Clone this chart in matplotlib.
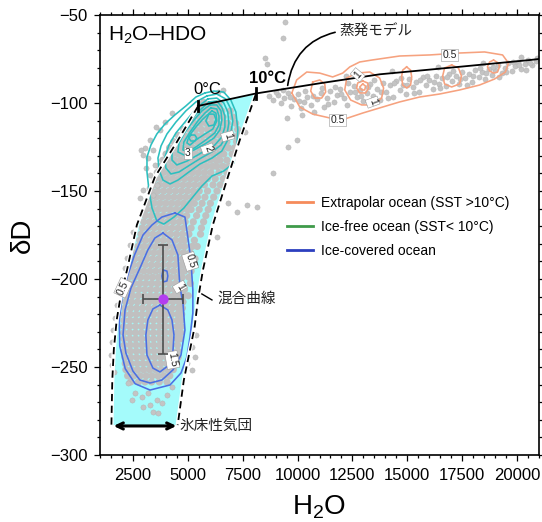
import matplotlib
matplotlib.use('Agg')
import matplotlib.pyplot as plt
from matplotlib.lines import Line2D
from matplotlib.ticker import MultipleLocator

plt.rcParams['font.family'] = ['Liberation Sans', 'Noto Sans CJK JP', 'DejaVu Sans']
plt.rcParams['mathtext.fontset'] = 'custom'
plt.rcParams['mathtext.rm'] = 'Liberation Sans'
plt.rcParams['mathtext.it'] = 'Liberation Sans:italic'
plt.rcParams['mathtext.bf'] = 'Liberation Sans:bold'

# ---------------- data ----------------
# evaporation model line (H2O, dD)
EVAP_H2O = [5460, 8100, 11010, 13740, 17150, 20570, 21000]
EVAP_DD = [-101.7, -94.6, -88.8, -83.7, -79.7, -75.6, -75.0]
TEMP_MARKS = [(5460, -101.7), (8100, -94.6)]

# mixing curves (band boundaries)
MIX_LEFT_H2O = [5460, 4500, 3500, 2680, 2230, 1950, 1760, 1630, 1560, 1520]
MIX_LEFT_DD = [-102.0, -122.2, -142.0, -169.3, -194.9, -209.0, -223.3, -240.0, -257.4, -283.0]
MIX_RIGHT_H2O = [8100, 7370, 6780, 6140, 5690, 5460, 5310, 5190, 4820, 4540]
MIX_RIGHT_DD = [-95.0, -121.0, -143.8, -169.3, -194.9, -211.9, -227.3, -234.7, -257.4, -283.0]

# ice-sheet air mass arrow
ICE_ARROW_H2O = [1620, 4480]
ICE_ARROW_DD = -283.5

# mean point with error bars
MEAN_H2O, MEAN_DD = 3870, -211.5
ERR_H2O, ERR_DD = 890, 31

# dense gray observations (rows of dD, list of H2O)
DENSE_DD = [-101, -104.5, -108, -111.5, -115, -118.5, -122, -125.5, -129, -132.5,
            -136, -139.5, -143, -146.5, -150, -153.5, -157, -160.5, -164, -167.5,
            -171, -174.5, -178, -181.5, -185, -188.5, -192, -195.5, -199, -202.5,
            -206, -209.5, -213, -216.5, -220, -223.5, -227, -230.5, -234, -237.5,
            -241, -244.5, -248, -251.5, -255, -258.5]
DENSE_H2O = [
    [5620, 5890, 6150, 6420],
    [5470, 5730, 6010, 6280, 6540, 6930],
    [5260, 5540, 5800, 6060, 6340, 6610, 7050],
    [5020, 5290, 5560, 5830, 6090, 6360, 6640, 6820, 7180],
    [4810, 5080, 5350, 5620, 5900, 6160, 6430, 6700, 6900, 7270],
    [4570, 4840, 5110, 5380, 5650, 5920, 6190, 6460, 6730, 7010, 7300],
    [4360, 4630, 4890, 5160, 5430, 5700, 5970, 6240, 6510, 6780, 7220],
    [4170, 4430, 4700, 4970, 5240, 5510, 5780, 6050, 6320, 6600, 6850, 7130],
    [4010, 4280, 4550, 4820, 5090, 5360, 5630, 5900, 6170, 6440, 6640, 7020],
    [3860, 4130, 4400, 4670, 4940, 5210, 5480, 5750, 6020, 6290, 6470, 6780],
    [3710, 3980, 4250, 4520, 4790, 5060, 5330, 5600, 5870, 6140, 6320, 6600, 6880],
    [3610, 3880, 4150, 4420, 4690, 4960, 5230, 5500, 5770, 6050, 6420, 6780],
    [3510, 3780, 4050, 4320, 4590, 4860, 5130, 5400, 5670, 5900, 6250, 6620],
    [3430, 3700, 3970, 4240, 4510, 4780, 5050, 5320, 5590, 5760, 6150, 6480],
    [3360, 3630, 3900, 4170, 4440, 4710, 4980, 5250, 5520, 5900, 6330],
    [3290, 3560, 3830, 4100, 4370, 4640, 4910, 5180, 5440, 5780, 6180],
    [3190, 3460, 3730, 4000, 4270, 4540, 4810, 5080, 5300, 5650, 6030],
    [3110, 3380, 3650, 3920, 4190, 4460, 4730, 5000, 5150, 5520, 5930],
    [3060, 3330, 3600, 3870, 4140, 4410, 4680, 4950, 5400, 5820],
    [2990, 3260, 3530, 3800, 4070, 4340, 4610, 4880, 5250, 5720],
    [2930, 3200, 3470, 3740, 4010, 4280, 4550, 4820, 5150, 5620],
    [2870, 3140, 3410, 3680, 3950, 4220, 4490, 4760, 5050, 5580],
    [2810, 3080, 3350, 3620, 3890, 4160, 4430, 4700, 4850, 5300],
    [2730, 3000, 3270, 3540, 3810, 4080, 4350, 4620, 4860, 5200, 5430],
    [2650, 2920, 3190, 3460, 3730, 4000, 4270, 4540, 4810, 5100],
    [2590, 2860, 3130, 3400, 3670, 3940, 4210, 4480, 4750, 5000, 5330],
    [2530, 2800, 3070, 3340, 3610, 3880, 4150, 4420, 4690, 4860, 5250],
    [2460, 2730, 3000, 3270, 3540, 3810, 4080, 4350, 4620, 4850, 5150],
    [2320, 2590, 2860, 3130, 3400, 3670, 3940, 4210, 4480, 4750, 5050],
    [2280, 2550, 2820, 3090, 3360, 3630, 3900, 4170, 4440, 4710, 5120],
    [2230, 2500, 2770, 3040, 3310, 3580, 3850, 4120, 4390, 4660, 4850],
    [2200, 2470, 2740, 3010, 3280, 3550, 3820, 4090, 4360, 4630, 4800, 5020],
    [2160, 2430, 2700, 2970, 3240, 3510, 3780, 4050, 4320, 4590, 4780],
    [2130, 2400, 2670, 2940, 3210, 3480, 3750, 4020, 4290, 4560, 4750],
    [2110, 2380, 2650, 2920, 3190, 3460, 3730, 4000, 4270, 4540, 4720],
    [2090, 2360, 2630, 2900, 3170, 3440, 3710, 3980, 4250, 4520, 4700],
    [2080, 2350, 2620, 2890, 3160, 3430, 3700, 3970, 4240, 4510, 4700],
    [2080, 2350, 2620, 2890, 3160, 3430, 3700, 3970, 4240, 4510, 4680],
    [2090, 2360, 2630, 2900, 3170, 3440, 3710, 3980, 4250, 4520, 4660],
    [2100, 2370, 2640, 2910, 3180, 3450, 3720, 3990, 4260, 4530],
    [2110, 2380, 2650, 2920, 3190, 3460, 3730, 4000, 4270, 4540],
    [2130, 2400, 2670, 2940, 3210, 3480, 3750, 4020, 4290, 4560],
    [2150, 2420, 2690, 2960, 3230, 3500, 3770, 4040, 4310, 4480],
    [2180, 2450, 2720, 2990, 3260, 3530, 3800, 4070, 4340],
    [2260, 2550, 2830, 3100, 3370, 3640, 3910, 4180],
    [2400, 2750, 3050, 3350, 3700, 4050],
]

# sparse observations: lower tail, band edges, outliers
TAIL_POINTS = [(2270, -259.1), (2590, -264.8), (2910, -267.0), (3180, -264.8), (3590, -268.8),
               (3820, -270.5), (3410, -275.6), (3640, -276.2), (3280, -271.6), (4050, -265.9),
               (4280, -261.4), (2460, -268.8), (2960, -272.7)]
EDGE_POINTS = [(3275, -121.0), (3050, -125.6), (3410, -126.7), (3180, -131.3), (2960, -129.5),
               (3500, -135.2), (3280, -140.9), (3090, -136.9), (3590, -146.6), (3410, -152.3),
               (3230, -148.3), (3730, -115.3), (3960, -110.8), (4280, -105.7), (3550, -113.6),
               (2870, -126.7), (2960, -149.4), (2820, -154.0),
               (2500, -173.3), (2370, -180.7), (2230, -188.1), (2140, -193.8), (2000, -200.6),
               (1910, -207.4), (1770, -214.8), (1680, -222.2), (1590, -229.0), (1550, -235.8),
               (1500, -243.2), (1550, -248.9), (1640, -252.8),
               (5190, -238.6), (5320, -244.3), (4960, -247.7), (5190, -251.7), (5370, -231.8),
               (6600, -92.6), (6370, -93.8), (5700, -99.0)]
OUTLIER_POINTS = [(9420, -54.0), (9330, -63.1), (8510, -74.4), (8600, -77.8), (9510, -108.5),
                  (10190, -106.8), (9960, -121.0), (9550, -125.0), (8870, -139.8), (7600, -116.5),
                  (6820, -156.8), (7230, -161.9), (7690, -158.0), (8140, -159.1), (6320, -176.1)]
EVAP_POINTS = [(8700, -96.0), (8900, -98.5), (9100, -95.5), (9250, -100.0), (9400, -97.0),
               (9550, -94.5), (9700, -101.5), (9850, -98.0), (10000, -95.0), (10150, -103.0),
               (10300, -99.5), (10450, -96.5), (10600, -101.0), (10750, -105.0), (10900, -98.0),
               (11050, -94.5), (11200, -102.0), (11350, -97.0), (11500, -93.0), (11650, -99.5),
               (11800, -95.5), (11950, -92.0), (12100, -97.0), (12250, -101.0), (12400, -94.0),
               (12550, -90.5), (12700, -96.5), (12850, -92.5), (13000, -99.0), (13150, -94.5),
               (13300, -89.0), (13450, -96.0), (13600, -92.0), (13750, -98.5), (13900, -88.5),
               (14050, -94.0), (14200, -90.0), (14350, -96.5), (14500, -87.5), (14650, -92.5),
               (14800, -89.5), (14950, -95.0), (15100, -86.5), (15250, -91.0), (15400, -88.0),
               (15550, -93.5), (15700, -85.5), (15850, -90.0), (16000, -87.0), (16150, -92.0),
               (16300, -84.5), (16450, -89.0), (16600, -86.0), (16750, -90.5), (16900, -83.5),
               (17050, -87.5), (17200, -84.5), (17350, -89.0), (17500, -82.5), (17650, -86.0),
               (17800, -83.5), (17950, -88.0), (18100, -81.5), (18250, -85.0), (18400, -82.5),
               (18550, -86.5), (18700, -80.5), (18850, -84.0), (19000, -81.5), (19150, -78.5),
               (19300, -83.0), (19450, -80.0), (19600, -77.5), (19750, -82.0), (19900, -79.0),
               (20050, -76.5), (20200, -80.5), (20350, -78.0), (20500, -75.5), (20700, -78.5),
               (20850, -76.0),
               (9000, -93.5), (9350, -92.5), (9650, -96.5), (10050, -99.0), (10350, -93.0),
               (10700, -96.0), (11100, -91.5), (11400, -100.5), (11700, -91.0), (12000, -95.0),
               (12300, -88.5), (12600, -93.5), (12900, -96.0), (13200, -91.0), (13500, -87.0),
               (13800, -94.0), (14100, -97.0), (14400, -88.5), (14700, -86.0), (15000, -90.0),
               (15300, -94.5), (15600, -87.0), (15900, -84.5), (16200, -88.0), (16500, -91.5),
               (16800, -85.0), (17100, -82.0), (17400, -86.5), (17700, -89.5), (18000, -84.5),
               (18300, -80.0), (18600, -83.0), (18900, -79.5), (19200, -85.5), (19500, -82.5),
               (19800, -76.5), (20100, -78.5), (20400, -81.5), (20600, -77.0), (20900, -74.5),
               (12200, -84.5), (14300, -82.0), (16400, -79.5), (18450, -77.0), (20200, -74.0)]

# density contours: ice-free ocean (teal)
TEAL_C05 = [(5780, -94.3), (6190, -93.2), (6640, -93.8), (6960, -98.3), (7190, -105.1), (7280, -115.3),
            (7230, -125.6), (7100, -134.1), (6640, -138.6), (6100, -141.5), (5640, -147.2), (5230, -153.4),
            (4820, -159.7), (4370, -164.8), (3910, -168.8), (3590, -167.0), (3370, -159.7), (3230, -149.4),
            (3140, -139.2), (3140, -130.7), (3320, -123.9), (3590, -117.6), (3960, -111.9), (4410, -106.8),
            (4910, -101.7), (5370, -96.6)]
TEAL_C10 = [(5870, -96.0), (6320, -94.9), (6730, -97.7), (6960, -103.4), (7050, -110.2), (6960, -117.0),
            (6820, -121.0), (6550, -127.3), (6100, -131.3), (5550, -134.7), (5050, -139.2), (4550, -143.8),
            (4190, -146.0), (3870, -143.8), (3690, -138.1), (3640, -131.3), (3780, -124.4), (4050, -117.6),
            (4460, -110.8), (4910, -104.5), (5370, -99.4)]
TEAL_C15 = [(5910, -97.7), (6320, -97.2), (6640, -100.0), (6820, -105.1), (6870, -111.4), (6780, -118.2),
            (6510, -123.9), (6100, -127.8), (5600, -131.3), (5100, -135.2), (4600, -139.2), (4230, -140.3),
            (4000, -136.9), (3960, -130.7), (4140, -123.9), (4460, -117.0), (4910, -110.2), (5410, -102.8)]
TEAL_C20 = [(5960, -99.4), (6320, -98.9), (6550, -102.3), (6690, -107.4), (6690, -113.6), (6550, -119.3),
            (6230, -123.9), (5910, -126.1), (5460, -129.5), (4960, -133.0), (4500, -135.2), (4280, -132.4),
            (4280, -126.7), (4500, -120.5), (4910, -113.6), (5410, -105.7)]
TEAL_C25 = [(6010, -101.1), (6320, -101.1), (6510, -104.5), (6550, -109.7), (6460, -115.3), (6190, -119.9),
            (5780, -123.3), (5280, -126.7), (4820, -129.5), (4550, -127.8), (4600, -122.7), (4870, -116.5),
            (5280, -109.7), (5640, -104.5)]
TEAL_C30 = [(6050, -102.8), (6320, -103.4), (6420, -107.4), (6420, -112.5), (6230, -117.0), (5820, -121.0),
            (5370, -125.0), (5000, -127.8), (4780, -126.7), (4820, -122.2), (5100, -116.5), (5460, -110.2),
            (5780, -105.7)]
TEAL_C35 = [(6100, -104.5), (6280, -105.7), (6320, -110.2), (6140, -114.8), (5780, -117.6), (5370, -121.0),
            (5100, -123.9), (4960, -122.7), (5050, -118.8), (5370, -113.6), (5690, -109.1)]
TEAL_C40A = [(5960, -106.3), (6190, -106.3), (6280, -109.1), (6190, -112.5), (5960, -113.1), (5820, -110.2)]
TEAL_C40B = [(5140, -118.2), (5320, -118.2), (5410, -119.9), (5320, -121.6), (5140, -121.6), (5050, -119.9)]
TEAL_LABELS = [('1', 6820, -118.8, -75), ('2', 5910, -126.1, -70), ('3', 5000, -128.4, 0)]

# density contours: ice-covered ocean (blue)
BLUE_C05 = [(4410, -162.5), (4870, -164.8), (5000, -176.1), (5140, -189.2), (5230, -206.3), (5230, -219.3),
            (5100, -233.0), (4960, -244.3), (4690, -253.4), (4190, -260.2), (3280, -263.1), (2600, -259.5),
            (2150, -251.0), (1900, -238.0), (1880, -223.3), (2020, -209.0), (2270, -197.7), (2570, -186.4),
            (2960, -175.0), (3370, -169.3), (3820, -164.8)]
BLUE_C10 = [(3870, -173.9), (4280, -177.8), (4550, -186.4), (4640, -204.5), (4780, -213.6), (4870, -229.0),
            (4690, -243.2), (4320, -251.7), (3820, -257.4), (3280, -259.1), (2820, -257.4), (2500, -252.3),
            (2180, -242.1), (2050, -231.8), (2140, -217.6), (2410, -205.1), (2820, -193.8), (3180, -183.5),
            (3500, -176.7)]
BLUE_C15 = [(3730, -214.8), (4090, -217.6), (4280, -223.3), (4370, -231.8), (4320, -241.5), (4090, -249.4),
            (3730, -252.8), (3410, -250.6), (3140, -243.2), (3090, -231.8), (3180, -223.3), (3410, -217.0)]
BLUE_C20 = [(3870, -194.9), (4050, -195.5), (4090, -198.3), (4050, -201.1), (3870, -201.7), (3820, -198.3)]
BLUE_LABELS = [('0.5', 5110, -190.0, -72), ('0.5', 2050, -205.0, 65), ('1', 4640, -204.5, -60),
               ('1.5', 4290, -246.0, -80)]

# density contours: extrapolar ocean (orange)
ORANGE_C05 = [(9740, -94.3), (9960, -86.9), (10420, -82.4), (11010, -83.0), (11600, -85.2), (12060, -83.0),
              (12380, -79.5), (12830, -76.7), (13380, -75.6), (14650, -73.3), (16020, -72.7), (17380, -71.6),
              (18520, -71.0), (19340, -72.7), (19610, -77.3), (19470, -82.4), (18970, -86.4), (18290, -89.8),
              (17380, -92.6), (16470, -94.9), (15560, -96.6), (14650, -99.4), (13740, -102.8), (12970, -105.7),
              (12150, -109.1), (11470, -108.5), (10690, -106.3), (10100, -102.3)]
ORANGE_C10A = [(10690, -88.1), (11010, -86.9), (11240, -89.2), (11280, -93.8), (11100, -97.2), (10780, -97.2),
               (10600, -93.2)]
ORANGE_C10B = [(12240, -85.8), (12690, -83.0), (13290, -82.4), (13740, -85.8), (13920, -91.5), (13830, -97.2),
               (13470, -101.1), (12920, -101.1), (12420, -98.3), (12150, -92.6)]
ORANGE_C15 = [(12970, -87.5), (13190, -88.6), (13240, -91.5), (13100, -94.3), (12830, -94.3), (12690, -91.5),
              (12740, -88.6)]
ORANGE_C20 = [(12970, -89.2), (13100, -90.4), (13060, -92.6), (12920, -92.6), (12830, -90.9)]
ORANGE_C10C = [(14970, -79.5), (15150, -81.3), (15200, -85.2), (15150, -89.8), (14970, -91.5), (14790, -89.8),
               (14740, -85.2), (14790, -81.3)]
ORANGE_C10D = [(17020, -78.4), (17330, -80.1), (17470, -84.7), (17380, -89.2), (17020, -90.9), (16700, -89.2),
               (16610, -84.7), (16700, -80.1)]
ORANGE_C10E = [(18930, -75.6), (19150, -77.3), (19200, -79.5), (19110, -82.4), (18930, -83.0), (18750, -81.8),
               (18650, -79.5), (18750, -76.7)]
ORANGE_LABELS = [('0.5', 11830, -109.7, 0), ('0.5', 16930, -72.7, 0), ('1', 13420, -99.5, -70),
                 ('1', 12740, -84.0, 50)]

LEGEND_LABELS = ['Extrapolar ocean (SST >10°C)', 'Ice-free ocean (SST< 10°C)', 'Ice-covered ocean']
LEGEND_COLORS = ['#f58b5b', '#3f9a4a', '#2c3fbf']

X_LABEL = 'H$_2$O'
Y_LABEL = 'δD'
TITLE = 'H$_2$O–HDO'

# ---------------- figure ----------------
fig = plt.figure(figsize=(5.42, 5.22), dpi=100)
ax = fig.add_axes([100 / 542, 67 / 522, 439 / 542, 440 / 522])
ax.set_xlim(1000, 21000)
ax.set_ylim(-300, -50)

# cyan mixing band
ax.fill(MIX_LEFT_H2O + MIX_RIGHT_H2O[::-1], MIX_LEFT_DD + MIX_RIGHT_DD[::-1],
        color='#a4fbfb', lw=0, zorder=1)

# gray observations
dx, dy = [], []
for yv, xs in zip(DENSE_DD, DENSE_H2O):
    dx += xs
    dy += [yv] * len(xs)
ax.scatter(dx, dy, s=27, c='#c0c0c0', edgecolors='none', zorder=2)
for pts in (TAIL_POINTS, EDGE_POINTS, OUTLIER_POINTS, EVAP_POINTS):
    ax.scatter([p[0] for p in pts], [p[1] for p in pts], s=14, c='#c4c4c4',
               edgecolors='#b0b0b0', linewidths=0.3, zorder=2)


def draw_contour(pts, color, lw=1.1):
    xs = [p[0] for p in pts] + [pts[0][0]]
    ys = [p[1] for p in pts] + [pts[0][1]]
    ax.plot(xs, ys, color=color, lw=lw, zorder=3, solid_joinstyle='round')


def draw_label(lbl):
    t, x, y, rot = lbl
    ax.text(x, y, t, fontsize=7.5, ha='center', va='center', rotation=rot, color='#222222', zorder=6,
            bbox=dict(boxstyle='square,pad=0.12', fc='white', ec='#999999', lw=0.4))


TEAL = '#2cbfbf'
BLUE = '#4a6fe3'
ORANGE = '#f6a27f'
for c in (TEAL_C05, TEAL_C10, TEAL_C15, TEAL_C20, TEAL_C25, TEAL_C30, TEAL_C35, TEAL_C40A, TEAL_C40B):
    draw_contour(c, TEAL, 1.15)
for c in (BLUE_C05, BLUE_C10, BLUE_C15, BLUE_C20):
    draw_contour(c, BLUE, 1.15)
for c in (ORANGE_C05, ORANGE_C10A, ORANGE_C10B, ORANGE_C15, ORANGE_C20, ORANGE_C10C, ORANGE_C10D, ORANGE_C10E):
    draw_contour(c, ORANGE, 1.15)

# dashed mixing curves
for xs, ys in ((MIX_LEFT_H2O, MIX_LEFT_DD), (MIX_RIGHT_H2O, MIX_RIGHT_DD)):
    ax.plot(xs, ys, color='white', lw=3.0, zorder=4, solid_capstyle='butt')
    ax.plot(xs, ys, color='black', lw=1.3, dashes=(4, 2.5), zorder=4.1)

# evaporation model
ax.plot(EVAP_H2O, EVAP_DD, color='black', lw=1.3, zorder=5)
for tx, ty in TEMP_MARKS:
    ax.plot([tx, tx], [ty - 3.0, ty + 3.0], color='black', lw=2.0, zorder=5)
ax.text(5890, -92.4, '0°C', fontsize=12, ha='center', va='center', zorder=6)
ax.text(8640, -86.0, '10°C', fontsize=12, fontweight='bold', ha='center', va='center', zorder=6)

for lbl in TEAL_LABELS + BLUE_LABELS + ORANGE_LABELS:
    draw_label(lbl)

# mean point with error bars
ax.errorbar(MEAN_H2O, MEAN_DD, xerr=ERR_H2O, yerr=ERR_DD, fmt='none', ecolor='#4d4d4d',
            elinewidth=1.2, capsize=3.5, capthick=1.2, zorder=6)
ax.scatter([MEAN_H2O], [MEAN_DD], s=55, c='#b33df0', zorder=7, linewidths=0)

# annotations
ax.annotate('蒸発モデル', xy=(9550, -90.0), xytext=(11900, -59.3), fontsize=10.5,
            family=['Noto Sans CJK JP'], ha='left', va='center', color='#222222', zorder=6,
            arrowprops=dict(arrowstyle='-', color='black', lw=1.2, shrinkA=1, shrinkB=0,
                            relpos=(0, 0.5), connectionstyle='arc3,rad=0.35'))
ax.plot([5640, 6100], [-208.5, -211.9], color='black', lw=1.0, zorder=6)
ax.text(6330, -211.5, '混合曲線', fontsize=10.5, family=['Noto Sans CJK JP'], ha='left', va='center',
        color='#222222', zorder=6)
ax.annotate('', xy=(ICE_ARROW_H2O[0], ICE_ARROW_DD), xytext=(ICE_ARROW_H2O[1], ICE_ARROW_DD),
            arrowprops=dict(arrowstyle='<->,head_length=0.45,head_width=0.22', color='black', lw=2.2,
                            shrinkA=0, shrinkB=0), zorder=6)
ax.text(4600, -283.3, '氷床性気団', fontsize=10.5, family=['Noto Sans CJK JP'], ha='left', va='center',
        color='#222222', zorder=6)

ax.text(0.018, 0.978, TITLE, transform=ax.transAxes, fontsize=15, ha='left', va='top', zorder=6)

# legend
handles = [Line2D([], [], color=c, lw=2.0) for c in LEGEND_COLORS]
ax.legend(handles, LEGEND_LABELS, loc='upper left', bbox_to_anchor=(0.425, 0.588), frameon=False,
          fontsize=10, handlelength=1.9, handletextpad=0.55, labelspacing=0.72,
          borderaxespad=0, borderpad=0)

# axes styling
ax.xaxis.set_major_locator(MultipleLocator(2500))
ax.xaxis.set_minor_locator(MultipleLocator(500))
ax.yaxis.set_major_locator(MultipleLocator(50))
ax.yaxis.set_minor_locator(MultipleLocator(10))
ax.tick_params(which='both', direction='out', top=True, right=True, labeltop=False,
               labelright=False, width=0.9)
ax.tick_params(which='major', length=4, labelsize=12, pad=5)
ax.tick_params(which='minor', length=2.2)
for sp in ax.spines.values():
    sp.set_linewidth(1.2)
ax.set_xlabel(X_LABEL, fontsize=20, labelpad=8)
ax.set_ylabel(Y_LABEL, fontsize=20, labelpad=10)

fig.savefig('out.png', dpi=100)
